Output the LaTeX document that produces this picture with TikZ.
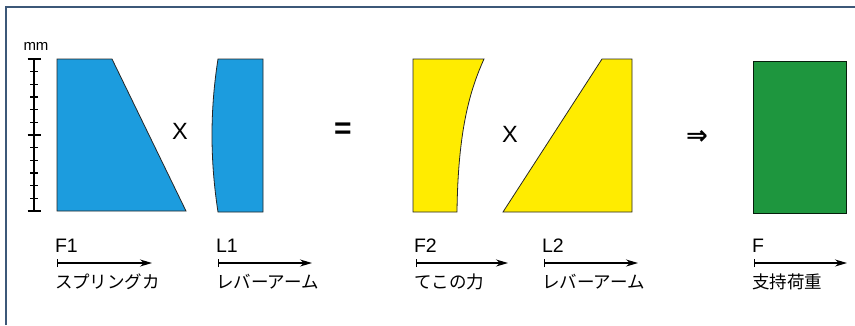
\documentclass[tikz,border=0pt]{standalone}
\usepackage{fontspec}
\setmainfont{Liberation Sans}
\newfontfamily\jpfont{Noto Sans CJK JP}
\newfontfamily\symfont{DejaVu Sans}
\usetikzlibrary{arrows.meta}

\definecolor{springblue}{RGB}{28,156,222}
\definecolor{leveryellow}{RGB}{255,236,0}
\definecolor{loadgreen}{RGB}{30,150,62}
\definecolor{framecol}{RGB}{60,88,120}

\begin{document}
\begin{tikzpicture}[x=1pt,y=-1pt,
  every node/.style={inner sep=0pt,outer sep=0pt},
  piece/.style={draw=black!85,line width=.8pt},
  lbl/.style={font=\fontsize{19.5}{20}\selectfont,anchor=base west},
  jp/.style={font=\jpfont\fontsize{17.5}{18}\selectfont,anchor=base west},
  op/.style={font=\fontsize{23.5}{24}\selectfont},
  dimarrow/.style={line width=1.2pt,{Bar[width=8pt]}-{Stealth[length=12pt,width=7pt]}}]
\useasboundingbox (0,0) rectangle (855,325);
\fill[white] (0,0) rectangle (855,325);
\draw[framecol,line width=1.5pt] (6,325) -- (6,7) -- (855,7);

% ruler
\node[font=\fontsize{15}{15}\selectfont] (mm) at (36,46) {mm};
\draw[line width=1.1pt] (34,59) -- (34,211);
\draw[line width=1.1pt] (27.5,59) -- (40.5,59);
\draw[line width=1.1pt] (27.5,211) -- (40.5,211);
\foreach \i in {1,...,11}{
  \pgfmathsetmacro\ty{59+152/12*\i}
  \ifnum\i=6
    \draw[line width=1.1pt] (27.5,\ty) -- (40.5,\ty);
  \else
    \draw[line width=1.1pt] (30,\ty) -- (38,\ty);
  \fi
}

% F1
\coordinate (a0) at (57,59);
\coordinate (a1) at (112,59);
\coordinate (a2) at (186,211);
\coordinate (a3) at (57,211);
\draw[piece,fill=springblue] (a0)--(a1)--(a2)--(a3)--cycle;
\node[op] (x1) at (180,131) {X};

% L1
\coordinate (b0) at (218,59);
\coordinate (b1) at (263,59);
\coordinate (b2) at (263,212);
\coordinate (b3) at (218,212);
\draw[piece,fill=springblue] (b0)--(b1)--(b2)--(b3) .. controls (210,160) and (210,110) .. (b0)--cycle;
\node[op,font=\bfseries\fontsize{30}{30}\selectfont] (eq) at (343,131) {=};

% F2
\coordinate (c0) at (413,59);
\coordinate (c1) at (484,59);
\coordinate (c2) at (457,212);
\coordinate (c3) at (413,212);
\draw[piece,fill=leveryellow] (c0)--(c1) .. controls (470,90) and (458,130) .. (c2)--(c3)--cycle;
\node[op] (x2) at (510,134) {X};

% L2
\coordinate (d0) at (602,59);
\coordinate (d1) at (632,59);
\coordinate (d2) at (632,212);
\coordinate (d3) at (503,212);
\draw[piece,fill=leveryellow] (d0)--(d1)--(d2)--(d3)--cycle;
\node[font=\symfont\bfseries\fontsize{26}{26}\selectfont] (impl) at (697,137) {⇒};

% F
\coordinate (e0) at (753,61);
\coordinate (e1) at (846,61);
\coordinate (e2) at (846,213);
\coordinate (e3) at (753,213);
\draw[draw=black!80!loadgreen,line width=1pt,fill=loadgreen] (e0)--(e1)--(e2)--(e3)--cycle;

% labels
\node[lbl] (nF1) at (55,252) {F1};
\coordinate (sF1) at (57,263); \coordinate (tF1) at (152,263);
\draw[dimarrow] (sF1) -- (tF1);
\node[jp] (jF1) at (55,288) {スプリングカ};

\node[lbl] (nL1) at (216,252) {L1};
\coordinate (sL1) at (218,263); \coordinate (tL1) at (312,263);
\draw[dimarrow] (sL1) -- (tL1);
\node[jp] (jL1) at (216,288) {レバーアーム};

\node[lbl] (nF2) at (414,252) {F2};
\coordinate (sF2) at (416,263); \coordinate (tF2) at (508,263);
\draw[dimarrow] (sF2) -- (tF2);
\node[jp] (jF2) at (414,288) {てこの力};

\node[lbl] (nL2) at (542,252) {L2};
\coordinate (sL2) at (544,263); \coordinate (tL2) at (638,263);
\draw[dimarrow] (sL2) -- (tL2);
\node[jp] (jL2) at (542,288) {レバーアーム};

\node[lbl] (nF) at (752,252) {F};
\coordinate (sF) at (754,263); \coordinate (tF) at (847,263);
\draw[dimarrow] (sF) -- (tF);
\node[jp] (jF) at (752,288) {支持荷重};
\end{tikzpicture}
\end{document}
